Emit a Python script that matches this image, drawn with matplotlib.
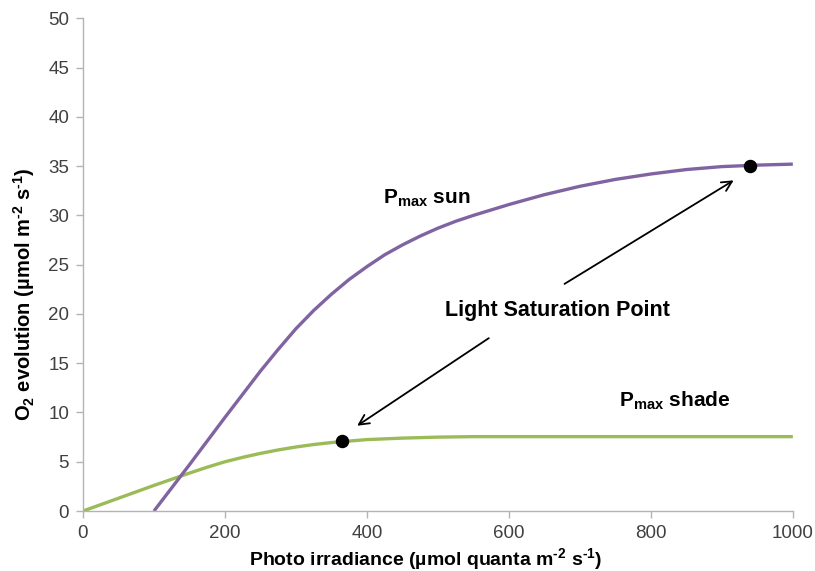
import matplotlib
matplotlib.use("Agg")
import matplotlib.pyplot as plt

plt.rcParams['font.family'] = ['Liberation Sans', 'DejaVu Sans']
plt.rcParams['mathtext.fontset'] = 'custom'
plt.rcParams['mathtext.rm'] = 'Liberation Sans'
plt.rcParams['mathtext.bf'] = 'Liberation Sans:bold'
plt.rcParams['mathtext.it'] = 'Liberation Sans:italic'

sun_x = [100, 150, 200, 250, 275, 300, 325, 350, 375, 400, 425, 450, 475, 500, 525, 550,
         575, 600, 650, 700, 750, 800, 850, 900, 950, 1000]
sun_y = [0, 4.7, 9.5, 14.2, 16.4, 18.5, 20.35, 22.0, 23.5, 24.8, 26.0, 27.0, 27.9, 28.7,
         29.4, 30.0, 30.55, 31.1, 32.1, 32.95, 33.65, 34.2, 34.65, 34.95, 35.1, 35.2]

shade_x = [0, 50, 100, 150, 175, 200, 225, 250, 275, 300, 325, 350, 375, 400, 450, 500,
           550, 600, 700, 800, 900, 1000]
shade_y = [0, 1.3, 2.6, 3.85, 4.45, 5.0, 5.45, 5.85, 6.2, 6.5, 6.75, 6.95, 7.1, 7.25, 7.4,
           7.5, 7.55, 7.55, 7.55, 7.55, 7.55, 7.55]

sat_x = [940, 365]
sat_y = [35.0, 7.1]

x_ticks = [0, 200, 400, 600, 800, 1000]
y_ticks = [0, 5, 10, 15, 20, 25, 30, 35, 40, 45, 50]

fig = plt.figure(figsize=(8.15, 5.71), dpi=100)
ax = fig.add_axes([0.1018, 0.105, 0.871, 0.863])

ax.plot(shade_x, shade_y, color='#9BBB59', lw=2.4, solid_capstyle='butt',
        solid_joinstyle='round', zorder=2)
ax.plot(sun_x, sun_y, color='#8064A2', lw=2.4, solid_capstyle='butt',
        solid_joinstyle='round', zorder=2)
ax.scatter(sat_x, sat_y, s=75, color='black', zorder=4)

ax.set_xlim(0, 1000)
ax.set_ylim(0, 50)
ax.set_xticks(x_ticks)
ax.set_yticks(y_ticks)

for s in ['top', 'right']:
    ax.spines[s].set_visible(False)
for s in ['left', 'bottom']:
    ax.spines[s].set_color('#b3b3b3')
    ax.spines[s].set_linewidth(1.0)
ax.tick_params(axis='both', direction='out', length=5, width=1.0, color='#b3b3b3',
               labelsize=13.5, labelcolor='#404040', pad=5)

hy = '\u2010'
ax.set_xlabel('Photo irradiance (µmol quanta m$^{\\mathbf{' + hy + '2}}$ s$^{\\mathbf{' + hy + '1}}$)',
              fontsize=14, fontweight='bold', labelpad=3)
ax.set_ylabel('O$_{\\mathbf{2}}$ evolution (µmol m$^{\\mathbf{' + hy + '2}}$ s$^{\\mathbf{' + hy + '1}}$)',
              fontsize=14.5, fontweight='bold', labelpad=8)
ax.xaxis.label.set_x(0.482)
ax.yaxis.label.set_y(0.44)

ax.text(422, 31.7, 'P$_{\\mathbf{max}}$ sun', fontsize=15, fontweight='bold',
        ha='left', va='center')
ax.text(755, 11.2, 'P$_{\\mathbf{max}}$ shade', fontsize=15, fontweight='bold',
        ha='left', va='center')
ax.text(668, 20.3, 'Light Saturation Point', fontsize=15.5, fontweight='bold',
        ha='center', va='center')

ax.annotate('', xy=(920, 33.7), xytext=(675, 22.9),
            arrowprops=dict(arrowstyle='->', color='black', lw=1.3,
                            mutation_scale=18))
ax.annotate('', xy=(383, 8.5), xytext=(575, 17.7),
            arrowprops=dict(arrowstyle='->', color='black', lw=1.3,
                            mutation_scale=18))

fig.savefig('out.png', dpi=100)
